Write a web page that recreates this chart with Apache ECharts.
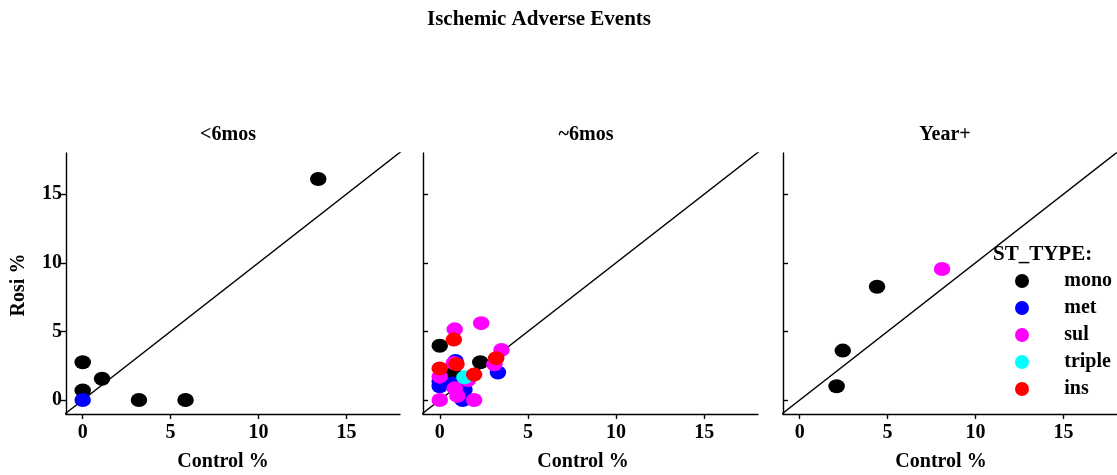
<!DOCTYPE html>
<html>
<head>
<meta charset="utf-8">
<style>
  html, body { margin: 0; padding: 0; background: #ffffff; }
  #chart { width: 1117px; height: 475px; }
</style>
<script src="https://cdn.jsdelivr.net/npm/echarts@6/dist/echarts.min.js"></script>
</head>
<body>
<div id="chart"></div>
<script>
// Ischemic adverse events: Rosi % vs Control % by study duration and study type

const panelTitles = ['<6mos', '~6mos', 'Year+'];
const typeNames = ['mono', 'met', 'sul', 'triple', 'ins'];
const typeColors = ['#000000', '#0000ff', '#ff00ff', '#00ffff', '#ff0000'];
const tickValues = [0, 5, 10, 15];

// [Control %, Rosi %] pairs for each panel and study type
const under6mos = {
  mono: [[13.4, 16.1], [0, 2.75], [0, 0.7], [1.1, 1.55], [3.2, 0], [5.85, 0]],
  met: [[0, 0]],
  sul: [],
  triple: [],
  ins: []
};
const about6mos = {
  mono: [[0, 3.95], [2.3, 2.75], [0.75, 1.95]],
  met: [[0.9, 2.85], [3.3, 2.0], [0, 1.35], [0, 1.0], [0.7, 1.2], [1.0, 1.1], [1.4, 0.75], [1.3, 0.0]],
  sul: [[0.85, 5.15], [2.35, 5.6], [3.5, 3.65], [3.1, 2.6], [0.8, 2.7], [0, 1.7], [1.6, 1.45],
        [0.85, 0.85], [1.0, 0.3], [0, 0], [1.95, 0]],
  triple: [[1.4, 1.65]],
  ins: [[0.8, 4.4], [3.2, 3.05], [0.95, 2.6], [0, 2.3], [1.95, 1.85]]
};
const yearPlus = {
  mono: [[2.1, 1.0], [2.45, 3.6], [4.4, 8.25]],
  met: [],
  sul: [[8.1, 9.55]],
  triple: [],
  ins: []
};
const panels = [under6mos, about6mos, yearPlus];

const FONT = '"Liberation Serif", "Times New Roman", serif';
const ellipse = 'path://M0,50A50,50 0 1,1 100,50A50,50 0 1,1 0,50Z';
const AX_MIN = [-0.95, -1.02];
const AX_MAX = [18.05, 18.0];
const LINE_W = 1.4;

const gridBoxes = [
  { left: 66, top: 153, width: 334, height: 261 },
  { left: 423, top: 153, width: 335, height: 261 },
  { left: 783, top: 153, width: 334, height: 261 }
];

const grid = [], xAxis = [], yAxis = [], series = [];
gridBoxes.forEach((b, i) => {
  grid.push(Object.assign({ containLabel: false }, b));
  xAxis.push({
    type: 'value', gridIndex: i, min: AX_MIN[0], max: AX_MAX[0],
    axisLine: { show: true, onZero: false, lineStyle: { color: '#000', width: LINE_W } },
    axisTick: { show: true, length: 5, inside: false, customValues: tickValues, lineStyle: { color: '#000', width: LINE_W } },
    axisLabel: { show: true, customValues: tickValues, margin: 9, color: '#000', fontFamily: FONT, fontWeight: 'bold', fontSize: 20 },
    splitLine: { show: false }
  });
  yAxis.push({
    type: 'value', gridIndex: i, min: AX_MIN[1], max: AX_MAX[1],
    axisLine: { show: true, onZero: false, lineStyle: { color: '#000', width: LINE_W } },
    axisTick: { show: true, length: 5, inside: i > 0, customValues: tickValues, lineStyle: { color: '#000', width: LINE_W } },
    axisLabel: { show: i === 0, customValues: tickValues, margin: 4, color: '#000', fontFamily: FONT, fontWeight: 'bold', fontSize: 20 },
    splitLine: { show: false }
  });
  // identity reference line y = x
  series.push({
    type: 'line', xAxisIndex: i, yAxisIndex: i, data: [[-1.1, -1.1], [18.2, 18.2]],
    symbol: 'none', clip: true, silent: true, z: 1,
    lineStyle: { color: '#000', width: LINE_W }
  });
  typeNames.forEach((name, k) => {
    series.push({
      type: 'scatter', name: name, xAxisIndex: i, yAxisIndex: i,
      data: panels[i][name], symbol: ellipse, symbolSize: [16.5, 14], z: 2,
      itemStyle: { color: typeColors[k], opacity: 1 }
    });
  });
});

const textStyleBase = { fill: '#000', fontFamily: FONT, fontWeight: 'bold', fontSize: 20 };
const titleX = [228, 586, 945];
const xNameX = [223, 583, 941];
const graphic = [
  { type: 'text', x: 539, y: 20, style: Object.assign({}, textStyleBase, { text: 'Ischemic Adverse Events', fontSize: 21, align: 'center', verticalAlign: 'middle' }) },
  { type: 'text', x: 993, y: 255, style: Object.assign({}, textStyleBase, { text: 'ST_TYPE:', align: 'left', verticalAlign: 'middle', fontSize: 21 }) },
  { type: 'text', x: 19, y: 285, rotation: Math.PI / 2, style: Object.assign({}, textStyleBase, { text: 'Rosi %', align: 'center', verticalAlign: 'middle' }) }
];
panelTitles.forEach((t, i) => {
  graphic.push({ type: 'text', x: titleX[i], y: 135, style: Object.assign({}, textStyleBase, { text: t, align: 'center', verticalAlign: 'middle' }) });
  graphic.push({ type: 'text', x: xNameX[i], y: 462, style: Object.assign({}, textStyleBase, { text: 'Control %', align: 'center', verticalAlign: 'middle' }) });
});

const chart = echarts.init(document.getElementById('chart'), null, { renderer: 'canvas' });
chart.setOption({
  backgroundColor: '#ffffff',
  animation: false,
  grid: grid,
  xAxis: xAxis,
  yAxis: yAxis,
  legend: {
    data: typeNames.map((n, k) => ({ name: n, icon: ellipse, itemStyle: { color: typeColors[k] } })),
    orient: 'vertical',
    left: 1015, top: 271,
    padding: 0,
    itemWidth: 16.5, itemHeight: 14, itemGap: 7,
    selectedMode: false,
    textStyle: { color: '#000', fontFamily: FONT, fontWeight: 'bold', fontSize: 20, lineHeight: 14, padding: [0, 0, 0, 29] }
  },
  graphic: graphic,
  series: series
});
</script>
</body>
</html>
